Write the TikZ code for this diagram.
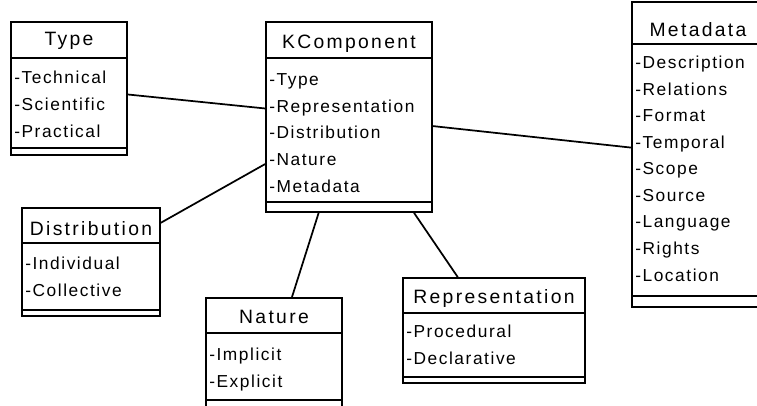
\documentclass[tikz,border=0pt]{standalone}
\usepackage{fontspec}
\setmainfont{Liberation Sans}
\newfontfamily\umlfont[LetterSpace=9]{Liberation Sans}
\newfontfamily\umltitlefont[LetterSpace=12]{Liberation Sans}
\usetikzlibrary{fit}

\begin{document}
\begin{tikzpicture}[x=0.75pt,y=-0.75pt,
  classbox/.style={draw,line width=1.3pt,inner sep=0pt},
  sepline/.style={line width=1.3pt},
  title/.style={anchor=base,inner sep=0pt,font=\umltitlefont\fontsize{14.5}{17}\selectfont},
  attrs/.style={anchor=base west,inner sep=0pt,align=left,font=\umlfont\fontsize{13}{19.9}\selectfont}]
\clip (0,0) rectangle (757,405);

% classes
\node[classbox, fit={(11,22) (127,155)}] (type) {};
\node[classbox, fit={(266,22) (432,212)}] (kcomp) {};
\node[classbox, fit={(632,2) (758,307)}] (meta) {};
\node[classbox, fit={(22,208) (160,316)}] (dist) {};
\node[classbox, fit={(206,298) (342,410)}] (nature) {};
\node[classbox, fit={(403,278) (585,383)}] (repr) {};

% compartments
\draw[sepline] (11,58) -- (127,58);
\draw[sepline] (11,148) -- (127,148);
\draw[sepline] (266,58) -- (432,58);
\draw[sepline] (266,202) -- (432,202);
\draw[sepline] (632,44) -- (758,44);
\draw[sepline] (632,296) -- (758,296);
\draw[sepline] (22,243) -- (160,243);
\draw[sepline] (22,310) -- (160,310);
\draw[sepline] (206,333) -- (342,333);
\draw[sepline] (206,400) -- (342,400);
\draw[sepline] (403,313) -- (585,313);
\draw[sepline] (403,377) -- (585,377);

% names and attributes (attrs sit on the baseline of their last line)
\node[title] (type-t) at (69,45) {Type};
\node[attrs] (type-a) at (14,137) {-Technical\\-Scientific\\-Practical};
\node[title] (kcomp-t) at (349,48) {KComponent};
\node[attrs] (kcomp-a) at (269,192) {-Type\\-Representation\\-Distribution\\-Nature\\-Metadata};
\node[title] (meta-t) at (698,36) {Metadata};
\node[attrs] (meta-a) at (635,281) {-Description\\-Relations\\-Format\\-Temporal\\-Scope\\-Source\\-Language\\-Rights\\-Location};
\node[title] (dist-t) at (91,235) {Distribution};
\node[attrs] (dist-a) at (25,296.5) {-Individual\\-Collective};
\node[title] (nature-t) at (274,323) {Nature};
\node[attrs] (nature-a) at (209,387) {-Implicit\\-Explicit};
\node[title] (repr-t) at (494,303) {Representation};
\node[attrs] (repr-a) at (406,364) {-Procedural\\-Declarative};

% links
\path[draw,line width=1.3pt,-] (type) -- (kcomp);
\path[draw,line width=1.3pt,-] (dist) -- (kcomp);
\path[draw,line width=1.3pt,-] (kcomp) -- (nature);
\path[draw,line width=1.3pt,-] (kcomp) -- (repr);
\path[draw,line width=1.3pt,-] (kcomp) -- (meta);

\end{tikzpicture}
\end{document}
